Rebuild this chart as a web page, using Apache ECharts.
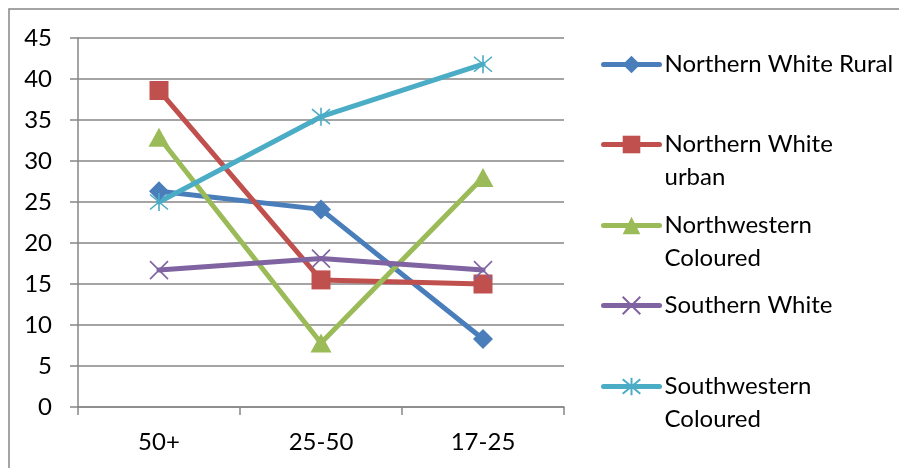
<!DOCTYPE html>
<html>
<head>
<meta charset="utf-8">
<style>
  html, body { margin: 0; padding: 0; background: #ffffff; }
  #chart { width: 909px; height: 468px; }
</style>
<script src="https://cdn.jsdelivr.net/npm/echarts@6/dist/echarts.min.js"></script>
</head>
<body>
<div id="chart"></div>
<script>
// Age groups along the horizontal axis
const ageGroups = ['50+', '25-50', '17-25'];

// Values per population group, one entry per age group
const northernWhiteRural = [26.3, 24.1, 8.3];
const northernWhiteUrban = [38.6, 15.5, 15.0];
const northwesternColoured = [32.9, 7.8, 28.0];
const southernWhite = [16.7, 18.1, 16.7];
const southwesternColoured = [25.0, 35.4, 41.8];

// Value axis ticks
const yTicks = { min: 0, max: 45, step: 5 };

// Series names and how they wrap in the key
const seriesNames = [
  'Northern White Rural',
  'Northern White urban',
  'Northwestern Coloured',
  'Southern White',
  'Southwestern Coloured'
];
const keyLines = [
  ['Northern White Rural'],
  ['Northern White', 'urban'],
  ['Northwestern', 'Coloured'],
  ['Southern White'],
  ['Southwestern', 'Coloured']
];

const FONT = 'Lato';
const GRID_GRAY = '#868686';

const crossPath = 'path://M0,0L10,10M10,0L0,10';
const starPath = 'path://M0,0L10,10M10,0L0,10M5,-1L5,11';

function lineSeries(name, data, color, symbol, size, stroked) {
  const s = {
    name: name,
    type: 'line',
    data: data,
    symbol: symbol,
    symbolSize: size,
    showSymbol: true,
    z: 3,
    lineStyle: { color: color, width: 5, cap: 'round', join: 'round' },
    itemStyle: { color: color, opacity: 1 }
  };
  if (stroked) {
    s.itemStyle.borderColor = color;
    s.itemStyle.borderWidth = 1.6;
  }
  return s;
}

const series = [
  lineSeries(seriesNames[0], northernWhiteRural, '#4A7EBB', 'diamond', [20, 20], false),
  lineSeries(seriesNames[1], northernWhiteUrban, '#C0504D', 'rect', 19, false),
  lineSeries(seriesNames[2], northwesternColoured, '#9BBB59', 'triangle', [21, 19], false),
  lineSeries(seriesNames[3], southernWhite, '#8064A2', crossPath, 18, true),
  lineSeries(seriesNames[4], southwesternColoured, '#4BACC6', starPath, 18, true)
];

// One key block per series so each entry sits on its own row.
// Wrapped captions get a leading empty line so the first line
// lines up with the key symbol.
const legendTops = [48, 95, 176, 289, 337];
const legends = seriesNames.map((n, i) => {
  const lines = keyLines[i];
  const caption = lines.length > 1 ? '\n' + lines.join('\n') : lines[0];
  return {
    orient: 'vertical',
    left: 601,
    top: legendTops[i],
    padding: 0,
    itemWidth: 56,
    itemHeight: 22,
    selectedMode: false,
    data: [{ name: n }],
    formatter: () => caption,
    lineStyle: { width: 5 },
    textStyle: {
      fontFamily: FONT,
      fontSize: 24,
      color: '#000000',
      lineHeight: 33
    }
  };
});

const chart = echarts.init(document.getElementById('chart'), null, { renderer: 'canvas' });

chart.setOption({
  animation: false,
  backgroundColor: '#ffffff',
  textStyle: { fontFamily: FONT },
  grid: { left: 78, right: 345, top: 38, bottom: 61, containLabel: false },
  legend: legends,
  xAxis: {
    type: 'category',
    data: ageGroups,
    boundaryGap: true,
    axisLine: { show: true, lineStyle: { color: GRID_GRAY, width: 1.5 } },
    axisTick: { show: true, length: 8, inside: false, lineStyle: { color: GRID_GRAY, width: 1.5 } },
    axisLabel: { fontFamily: FONT, fontSize: 24, color: '#000000', margin: 23 },
    splitLine: { show: false }
  },
  yAxis: {
    type: 'value',
    min: yTicks.min,
    max: yTicks.max,
    interval: yTicks.step,
    axisLine: { show: true, lineStyle: { color: GRID_GRAY, width: 1.5 } },
    axisTick: { show: true, length: 8, inside: false, lineStyle: { color: GRID_GRAY, width: 1.5 } },
    axisLabel: { fontFamily: FONT, fontSize: 24, color: '#000000', margin: 26 },
    splitLine: { show: true, lineStyle: { color: GRID_GRAY, width: 1.5 } }
  },
  series: series,
  graphic: [
    {
      type: 'polyline',
      silent: true,
      shape: { points: [[9, 470], [9, 9], [899, 9]] },
      style: { stroke: GRID_GRAY, lineWidth: 1.5, fill: null }
    }
  ]
});
</script>
</body>
</html>
